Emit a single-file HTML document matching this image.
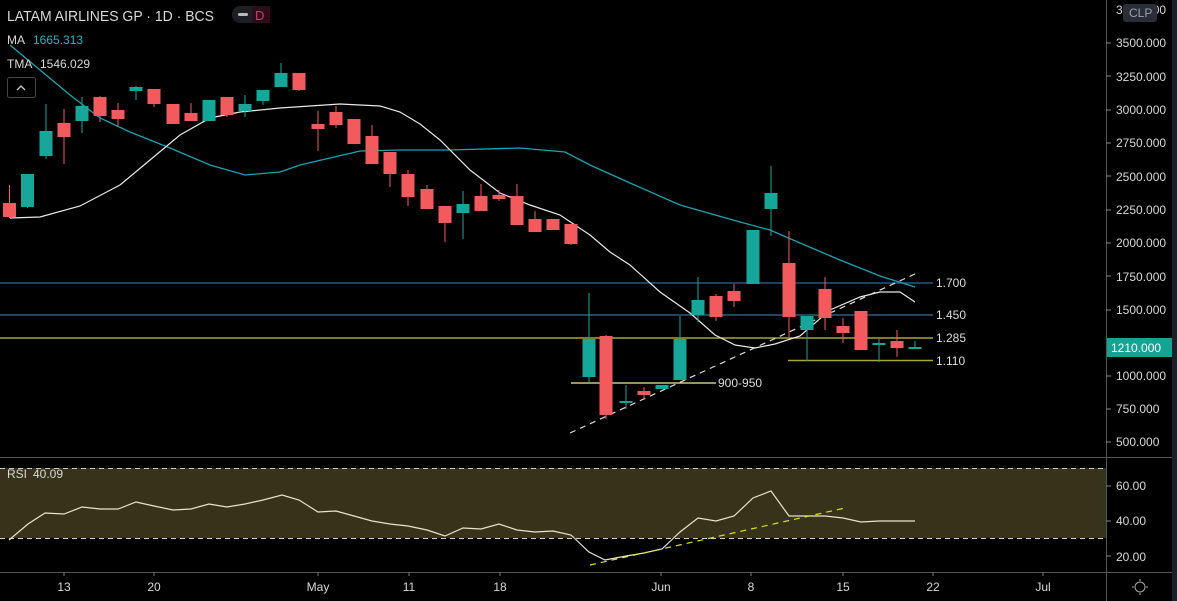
<!DOCTYPE html>
<html><head><meta charset="utf-8"><style>
html,body{margin:0;padding:0;background:#000;}
svg{display:block;font-family:"Liberation Sans",sans-serif;}
</style></head><body>
<svg id="s" width="1177" height="601" viewBox="0 0 1177 601" xmlns="http://www.w3.org/2000/svg">
<rect width="1177" height="601" fill="#000"/>
<rect x="1172" y="0" width="5" height="601" fill="#1c1f26"/>
<rect x="0" y="468" width="1106" height="70" fill="#37331a"/>
<line x1="0" y1="468.5" x2="1106" y2="468.5" stroke="#ccc" stroke-dasharray="5,4"/>
<line x1="0" y1="538.5" x2="1106" y2="538.5" stroke="#ccc" stroke-dasharray="5,4"/>
<line x1="0" y1="457.5" x2="1172" y2="457.5" stroke="#555"/>
<line x1="0" y1="572.5" x2="1172" y2="572.5" stroke="#555"/>
<line x1="1106.5" y1="0" x2="1106.5" y2="601" stroke="#555"/>
<line x1="0" y1="283" x2="933" y2="283" stroke="#2b6aa0" stroke-width="1.3"/>
<line x1="0" y1="315" x2="933" y2="315" stroke="#3a6e99" stroke-width="1.3"/>
<line x1="0" y1="338" x2="933" y2="338" stroke="#c8c838" stroke-width="1.3"/>
<line x1="788" y1="360.5" x2="933" y2="360.5" stroke="#a8a830" stroke-width="1.5"/>
<line x1="571" y1="383" x2="716" y2="383" stroke="#f0f0a0" stroke-width="1.3"/>
<g fill="#ddd" font-size="12">
<text x="936" y="287">1.700</text><text x="936" y="319">1.450</text>
<text x="936" y="342">1.285</text><text x="936" y="365">1.110</text>
<text x="718" y="387">900-950</text>
</g>
<polyline fill="none" stroke="#19a3b3" stroke-width="1.3" points="10,45 40,70 70,95 100,118 130,132 170,148 210,165 245,175 280,172 300,165 330,158 360,151 400,150 450,150 520,148 565,152 590,165 630,183 680,205 740,222 770,230 800,243 840,260 880,276 915,287"/>
<polyline fill="none" stroke="#e8e8e8" stroke-width="1.2" points="10,218 40,217 80,206 120,185 150,160 180,135 210,118 240,112 280,108 340,104 380,106 400,112 420,124 440,140 470,170 500,193 530,205 560,215 590,235 610,252 630,265 660,292 690,313 715,335 735,345 755,348 775,344 800,336 830,310 860,297 880,292 900,292 915,302"/>
<line x1="570" y1="433" x2="917" y2="273" stroke="#ddd" stroke-width="1.2" stroke-dasharray="6,5"/>
<g id="c"></g>
<polyline fill="none" stroke="#e8e4c8" stroke-width="1.2" points="9,540 28,524 45,513 64,514 82,507 100,509 118,509 136,502 154,506 173,510 191,509 209,504 227,507 245,504 263,500 282,495 299,500 318,512 336,511 354,516 372,521 390,524 408,526 427,530 445,536 463,528 481,529 499,524 517,530 535,532 553,531 571,535 589,552 605,560 626,556 644,553 662,549 680,532 698,518 716,521 734,516 753,498 771,491 789,516 807,516 825,516 843,518 861,522 879,521 897,521 915,521"/>
<line x1="590" y1="565" x2="845" y2="508" stroke="#e0e020" stroke-width="1.2" stroke-dasharray="6,5"/>
<g fill="#d8d8d8" font-size="12">
<text x="1116" y="14">3750.000</text>
<text x="1116" y="47">3500.000</text><text x="1116" y="81">3250.000</text>
<text x="1116" y="114">3000.000</text><text x="1116" y="147">2750.000</text>
<text x="1116" y="181">2500.000</text><text x="1116" y="214">2250.000</text>
<text x="1116" y="247">2000.000</text><text x="1116" y="281">1750.000</text>
<text x="1116" y="314">1500.000</text>
<text x="1116" y="380">1000.000</text><text x="1116" y="413">750.000</text>
<text x="1116" y="446">500.000</text>
<text x="1116" y="490">60.00</text><text x="1116" y="525">40.00</text>
<text x="1116" y="561">20.00</text>
</g>
<g stroke="#888"><line x1="1106" y1="43" x2="1111" y2="43"/><line x1="1106" y1="76" x2="1111" y2="76"/><line x1="1106" y1="110" x2="1111" y2="110"/><line x1="1106" y1="143" x2="1111" y2="143"/><line x1="1106" y1="176" x2="1111" y2="176"/><line x1="1106" y1="210" x2="1111" y2="210"/><line x1="1106" y1="243" x2="1111" y2="243"/><line x1="1106" y1="276" x2="1111" y2="276"/><line x1="1106" y1="310" x2="1111" y2="310"/><line x1="1106" y1="376" x2="1111" y2="376"/><line x1="1106" y1="409" x2="1111" y2="409"/><line x1="1106" y1="442" x2="1111" y2="442"/><line x1="1106" y1="486" x2="1111" y2="486"/><line x1="1106" y1="521" x2="1111" y2="521"/><line x1="1106" y1="556" x2="1111" y2="556"/></g>
<rect x="1123" y="4" width="34" height="18" rx="3" fill="#2a2e39"/>
<text x="1129" y="17" fill="#9aa0ab" font-size="12">CLP</text>
<rect x="1107" y="338" width="65" height="19" fill="#15a394"/>
<text x="1111" y="352" fill="#fff" font-size="12">1210.000</text>
<circle cx="1140" cy="587" r="5" fill="none" stroke="#aaa"/>
<g stroke="#aaa"><line x1="1140" y1="579" x2="1140" y2="581"/><line x1="1140" y1="593" x2="1140" y2="595"/><line x1="1132" y1="587" x2="1134" y2="587"/><line x1="1146" y1="587" x2="1148" y2="587"/></g>
<g fill="#d8d8d8" font-size="12" text-anchor="middle">
<text x="64" y="591">13</text><text x="154" y="591">20</text><text x="318" y="591">May</text>
<text x="409" y="591">11</text><text x="500" y="591">18</text><text x="661" y="591">Jun</text>
<text x="751" y="591">8</text><text x="843" y="591">15</text><text x="933" y="591">22</text>
<text x="1043" y="591">Jul</text>
</g>
<g stroke="#777"><line x1="64" y1="572" x2="64" y2="576"/><line x1="154" y1="572" x2="154" y2="576"/><line x1="318" y1="572" x2="318" y2="576"/><line x1="409" y1="572" x2="409" y2="576"/><line x1="500" y1="572" x2="500" y2="576"/><line x1="661" y1="572" x2="661" y2="576"/><line x1="751" y1="572" x2="751" y2="576"/><line x1="843" y1="572" x2="843" y2="576"/><line x1="933" y1="572" x2="933" y2="576"/><line x1="1043" y1="572" x2="1043" y2="576"/></g>
<text x="7" y="21" fill="#d8d8d8" font-size="15" textLength="207" lengthAdjust="spacingAndGlyphs">LATAM AIRLINES GP · 1D · BCS</text>
<rect x="232" y="6" width="38" height="17" rx="8" fill="#1e1f24"/>
<rect x="238" y="13" width="10" height="3" rx="1.5" fill="#bbb"/>
<rect x="252" y="6" width="18" height="17" fill="#2a0f18"/>
<text x="255" y="20" fill="#e0306a" font-size="13">D</text>
<text x="7" y="44" fill="#d8d8d8" font-size="12">MA</text>
<text x="33" y="44" fill="#26b3c3" font-size="12">1665.313</text>
<text x="7" y="68" fill="#d8d8d8" font-size="12">TMA</text>
<text x="40" y="68" fill="#d8d8d8" font-size="12">1546.029</text>
<rect x="7.5" y="77.5" width="28" height="20" rx="2" fill="none" stroke="#444"/>
<polyline points="17,90 21,86 25,90" fill="none" stroke="#ccc" stroke-width="1.3"/>
<text x="7" y="478" fill="#d8d8d8" font-size="12">RSI</text>
<text x="33" y="478" fill="#d8d8d8" font-size="12">40.09</text>
</svg>
<script>
var d=[[9.5,'r',203,217,185,218],[27.5,'g',174,207,174,208],[46,'g',131,156,104,159],[64,'r',123,137,109,164],[82,'g',106,121,97,133],[100,'r',97,116,96,122],[118,'r',110,119,103,127],[136,'g',87,91,86,100],[154,'r',89,104,89,107],[173,'r',104,124,104,124],[191,'r',113,121,103,121],[209,'g',100,121,100,121],[227,'r',97,115,97,117],[245,'g',104,111,95,117],[263,'g',90,101,90,105],[281,'g',73,87,63,87],[299,'r',73,90,73,91],
[318,'r',124,129,111,151],[336,'r',112,125,106,128],[354,'r',119,144,119,144],[372,'r',136,164,125,164],[390,'r',152,174,152,187],[408,'r',174,197,170,206],[427,'r',189,209,185,209],[445,'r',206,223,206,242],[463,'g',204,213,191,239],[481,'r',196,211,184,211],[499,'r',195,199,190,201],[517,'r',196,225,184,225],[535,'r',219,232,211,232],[553,'r',219,230,219,230],[571,'r',224,244,224,245],
[589,'g',339,377,293,383],[606,'r',336,415,335,419],[626,'g',401,403,385,409],[644,'r',391,395,387,400],[662,'g',385,389,385,389],[680,'g',339,380,316,380],[698,'g',300,315,277,322],[716,'r',296,317,294,321],[734,'r',291,301,284,307],[753,'g',230,284,230,284],[771,'g',193,209,166,236],[789,'r',263,317,231,337],[807,'g',316,330,316,361],[825,'r',289,318,277,330],[843,'r',326,333,318,343],[861,'r',311,350,311,350],[879,'g',343,345,339,362],[897,'r',341,348,330,357],[915,'g',347,349,341,349]];
var g=document.getElementById('c'),h='';
d.forEach(function(c){var col=c[1]=='g'?'#17a79a':'#f25a5e';
h+='<line x1="'+c[0]+'" y1="'+c[4]+'" x2="'+c[0]+'" y2="'+c[5]+'" stroke="'+col+'" stroke-width="1"/>';
var bh=Math.max(c[3]-c[2],1.5);
h+='<rect x="'+(c[0]-6.5)+'" y="'+c[2]+'" width="13" height="'+bh+'" fill="'+col+'"/>';});
g.innerHTML=h;
</script>
</body></html>
